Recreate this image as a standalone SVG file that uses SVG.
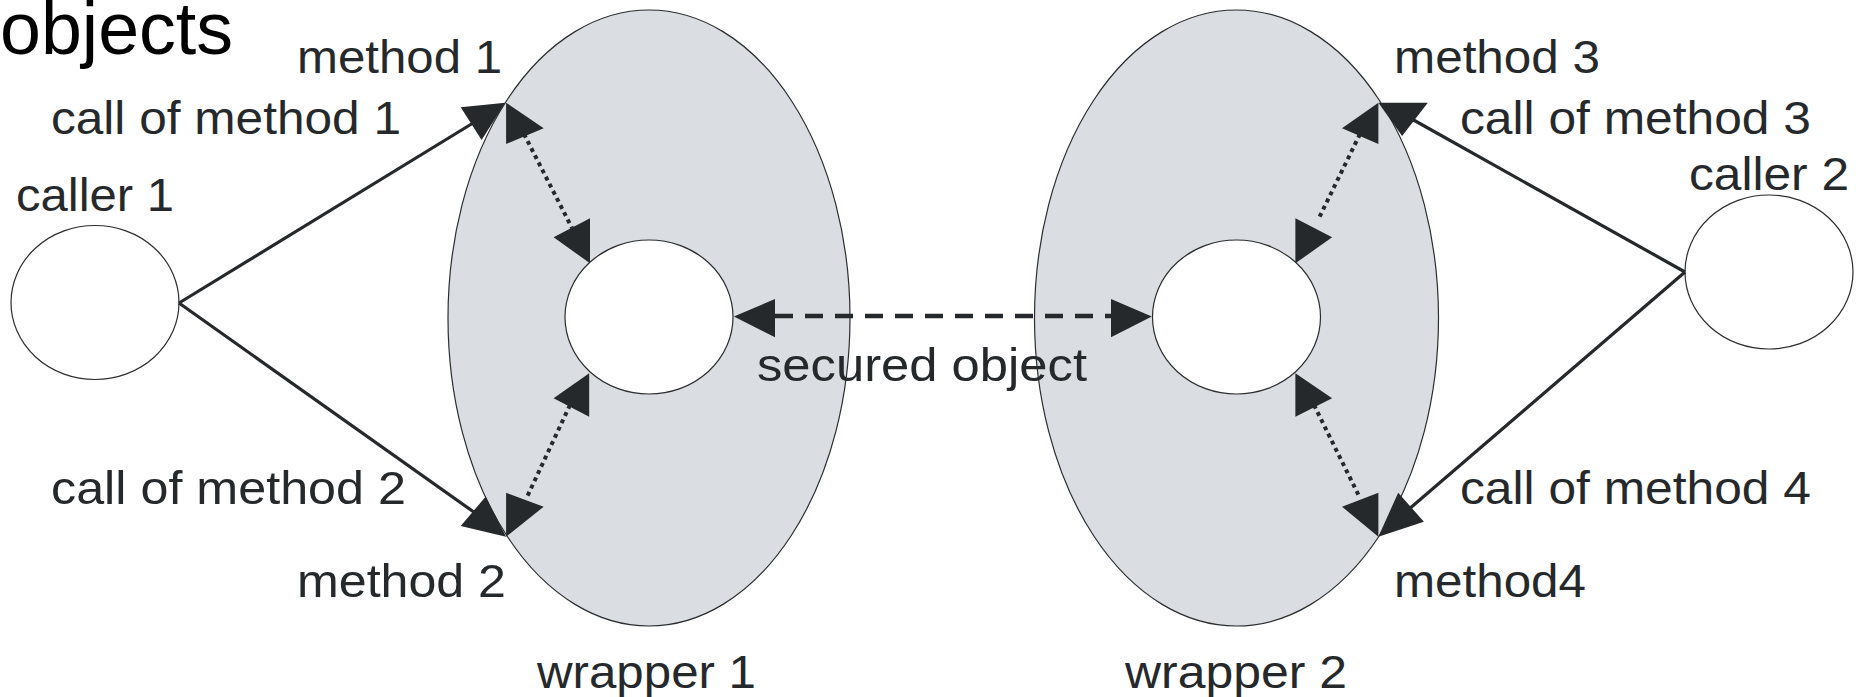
<svg xmlns="http://www.w3.org/2000/svg" width="1867" height="697" viewBox="0 0 1867 697">
<style>
.bg{fill:#ffffff}
.wrap{fill:#dadde1;stroke:#2b2e30;stroke-width:1.2}
.obj{fill:#ffffff;stroke:#2b2e30;stroke-width:1.2}
.solid{fill:none;stroke:#25292b;stroke-width:3.2}
.dash{fill:none;stroke:#25292b;stroke-width:4.5;stroke-dasharray:18 12}
.dot{fill:none;stroke:#25292b;stroke-width:4;stroke-dasharray:4 4}
.head{fill:#25292b;stroke:none}
.lbl{font-family:"Liberation Sans",Arial,sans-serif;font-size:46px;fill:#25292b}
.title{font-family:"Liberation Sans",Arial,sans-serif;font-size:74px;fill:#000000}
</style>
<rect class="bg" x="0" y="0" width="1867" height="697"/>
<text class="title" x="0" y="54" textLength="233" lengthAdjust="spacingAndGlyphs">objects</text>

<g id="wrapper1">
<ellipse class="wrap" cx="649" cy="318" rx="201" ry="308"/>
<text class="lbl" x="537" y="688" textLength="219" lengthAdjust="spacingAndGlyphs">wrapper 1</text>
</g>
<g id="wrapper2">
<ellipse class="wrap" cx="1236.5" cy="318" rx="202" ry="308"/>
<text class="lbl" x="1125" y="688" textLength="222" lengthAdjust="spacingAndGlyphs">wrapper 2</text>
</g>
<g id="secured1">
<ellipse class="obj" cx="649" cy="317" rx="84" ry="77"/>
</g>
<g id="secured2">
<ellipse class="obj" cx="1236.5" cy="317" rx="84" ry="77"/>
</g>
<g id="caller1">
<ellipse class="obj" cx="95" cy="302.5" rx="84" ry="77"/>
<text class="lbl" x="16" y="210.5" textLength="158" lengthAdjust="spacingAndGlyphs">caller 1</text>
</g>
<g id="caller2">
<ellipse class="obj" cx="1769" cy="272" rx="84" ry="77"/>
<text class="lbl" x="1689" y="189.5" textLength="160" lengthAdjust="spacingAndGlyphs">caller 2</text>
</g>
<g id="method-labels">
<text class="lbl" x="297" y="72.5" textLength="205" lengthAdjust="spacingAndGlyphs">method 1</text>
<text class="lbl" x="297" y="596.5" textLength="209" lengthAdjust="spacingAndGlyphs">method 2</text>
<text class="lbl" x="1394" y="72.5" textLength="206" lengthAdjust="spacingAndGlyphs">method 3</text>
<text class="lbl" x="1394" y="596.5" textLength="192" lengthAdjust="spacingAndGlyphs">method4</text>
</g>

<g id="connectors">
<line class="solid" x1="179" y1="303" x2="478" y2="120"/>
<polygon class="head" points="460.7,107.3 505.3,102.7 481.6,140"/>
<line class="solid" x1="179" y1="303" x2="478" y2="515"/>
<polygon class="head" points="460.7,526 485.6,496.7 506.1,536.7"/>
<line class="solid" x1="1685" y1="272" x2="1410" y2="118"/>
<polygon class="head" points="1378.4,102.7 1427.8,102.7 1402.1,136"/>
<line class="solid" x1="1685" y1="272" x2="1408" y2="510"/>
<polygon class="head" points="1378.4,536.7 1398.2,492.7 1423.9,521.7"/>

<line class="dash" x1="775" y1="316" x2="1111" y2="316"/>
<polygon class="head" points="733.9,316.5 775,299 775,337.3"/>
<polygon class="head" points="1151.8,316.5 1111,299 1111,337.3"/>

<line class="dot" x1="524" y1="134" x2="572" y2="228"/>
<polygon class="head" points="506.1,102.7 506.1,144 543.7,128.3"/>
<polygon class="head" points="553.6,237.3 590,218.3 590,263.3"/>
<line class="dot" x1="570" y1="405" x2="527" y2="497"/>
<polygon class="head" points="553.6,398.3 589.2,373.3 589.2,416.7"/>
<polygon class="head" points="506.1,492.7 543.7,506.7 506.1,536.7"/>
<line class="dot" x1="1360" y1="134" x2="1318" y2="220"/>
<polygon class="head" points="1342,128.3 1378.4,102.7 1378.4,144"/>
<polygon class="head" points="1295.4,218.3 1332.1,237.3 1295.4,263.3"/>
<line class="dot" x1="1314" y1="405" x2="1360" y2="498"/>
<polygon class="head" points="1295.4,373.3 1332.1,398.3 1295.4,416.7"/>
<polygon class="head" points="1342,506.7 1378.4,492.7 1378.4,536.7"/>

<text class="lbl" x="51" y="134" textLength="350" lengthAdjust="spacingAndGlyphs">call of method 1</text>
<text class="lbl" x="51" y="504" textLength="355" lengthAdjust="spacingAndGlyphs">call of method 2</text>
<text class="lbl" x="1460" y="134" textLength="351" lengthAdjust="spacingAndGlyphs">call of method 3</text>
<text class="lbl" x="1460" y="504" textLength="351" lengthAdjust="spacingAndGlyphs">call of method 4</text>
<text class="lbl" x="757" y="380.5" textLength="330" lengthAdjust="spacingAndGlyphs">secured object</text>
</g>
</svg>
